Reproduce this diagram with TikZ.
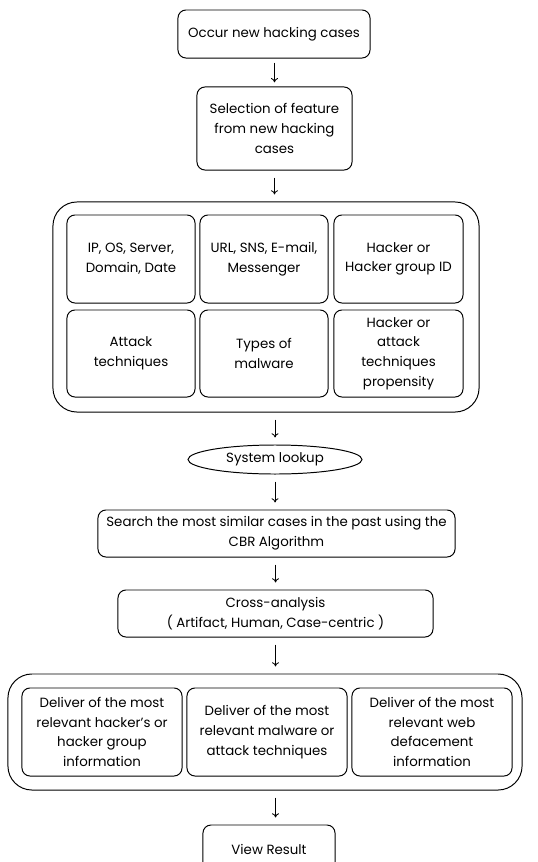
\documentclass[tikz,border=0pt]{standalone}
\usepackage{fontspec}
\setmainfont{Poppins}
\usetikzlibrary{shapes.geometric}
\usetikzlibrary{arrows.meta}

\begin{document}
\begin{tikzpicture}[x=0.025cm, y=-0.025cm,
   box/.style={draw, rounded corners=0.2cm, line width=0.7pt, align=center,
      inner sep=1pt, font=\fontsize{9.5}{14}\selectfont},
   group/.style={draw, rounded corners=0.6cm, line width=0.7pt},
   flow/.style={-{To[length=3pt,width=5pt]}, line width=0.6pt,
      shorten <=5pt, shorten >=5pt}]

   \clip (0,0) rectangle (538,862);
   \fill[white] (0,0) rectangle (538,862);

   \node[box, minimum width=4.8cm, minimum height=1.2cm] (occur) at (274,34)
      {Occur new hacking cases};
   \node[box, minimum width=3.875cm, minimum height=2.075cm] (select) at (274.5,128.5)
      {Selection of feature\\from new hacking\\cases};

   \node[group, minimum width=10.65cm, minimum height=5.25cm] (feat) at (266,307) {};
   \node[box, minimum width=3.2cm, minimum height=2.2cm] (ip) at (131,259)
      {IP, OS, Server,\\Domain, Date};
   \node[box, minimum width=3.2cm, minimum height=2.2cm] (url) at (264,259)
      {URL, SNS, E-mail,\\Messenger};
   \node[box, minimum width=3.225cm, minimum height=2.2cm] (hid) at (398.5,259)
      {Hacker or\\Hacker group ID};
   \node[box, minimum width=3.2cm, minimum height=2.175cm] (atk) at (131,353.5)
      {Attack\\techniques};
   \node[box, minimum width=3.2cm, minimum height=2.175cm] (mal) at (264,353.5)
      {Types of\\malware};
   \node[box, minimum width=3.225cm, minimum height=2.175cm] (prop) at (398.5,353.5)
      {Hacker or\\attack\\techniques\\propensity};

   \node[box, ellipse, minimum width=4.35cm, minimum height=0.725cm] (lookup) at (275,459.5)
      {System lookup};
   \node[box, minimum width=8.925cm, minimum height=1.175cm] (search) at (276.5,533.5)
      {Search the most similar cases in the past using the\\CBR Algorithm};
   \node[box, minimum width=7.875cm, minimum height=1.175cm] (cross) at (275.5,613.5)
      {Cross-analysis\\( Artifact, Human, Case-centric )};

   \node[group, minimum width=12.85cm, minimum height=2.9cm] (result) at (265,732) {};
   \foreach \x/\n/\t in {102/hk/{Deliver of the most\\relevant hacker's or\\hacker group\\information},
                        267/mw/{Deliver of the most\\relevant malware or\\attack techniques},
                        432/wd/{Deliver of the most\\relevant web\\defacement\\information}}
      \node[box, minimum width=4cm, minimum height=2.2cm] (\n) at (\x,732) {\t};

   \node[box, minimum width=3.3cm, minimum height=1.2cm] (view) at (269,849)
      {View Result};

   \draw[flow, shorten <=3pt, shorten >=3pt] (occur.south -| select.north) -- (select.north);
   \draw[flow] (select.south) -- (select.south |- feat.north);
   \draw[flow] (lookup.north |- feat.south) -- (lookup.north);
   \draw[flow] (lookup.south) -- (lookup.south |- search.north);
   \draw[flow] (cross.north |- search.south) -- (cross.north);
   \draw[flow] (cross.south) -- (cross.south |- result.north);
   \draw[flow] (cross.south |- result.south) -- (cross.south |- view.north);
\end{tikzpicture}
\end{document}
